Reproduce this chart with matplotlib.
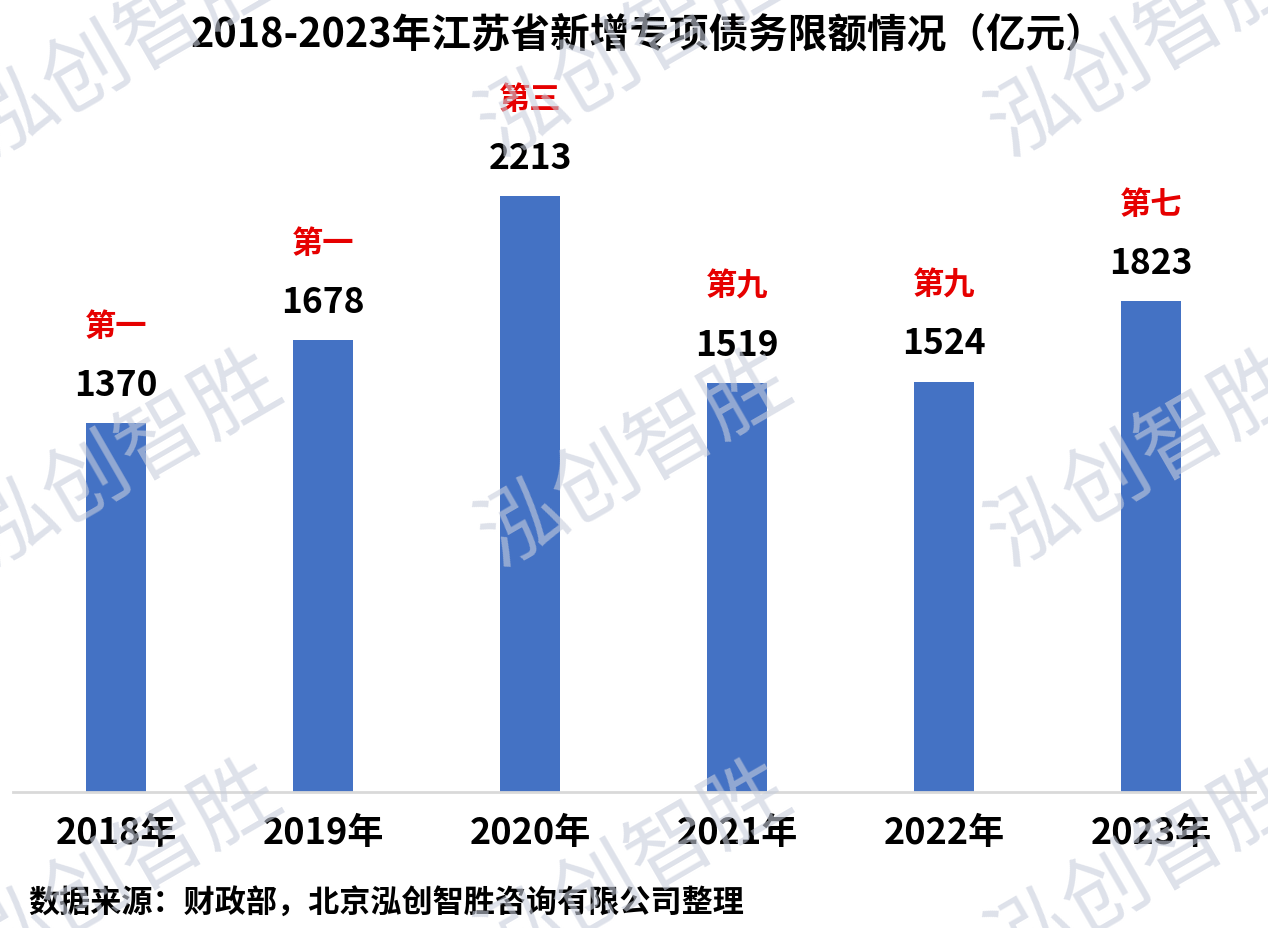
import matplotlib
matplotlib.use('Agg')
import matplotlib.pyplot as plt

plt.rcParams['font.family'] = ['Noto Sans CJK SC', 'DejaVu Sans']

years = ['2018年', '2019年', '2020年', '2021年', '2022年', '2023年']
limits = [1370, 1678, 2213, 1519, 1524, 1823]
ranks = ['第一', '第一', '第三', '第九', '第九', '第七']

title = '2018-2023年江苏省新增专项债务限额情况（亿元）'
source = '数据来源：财政部，北京泓创智胜咨询有限公司整理'
watermark = '泓创智胜'

fig = plt.figure(figsize=(12.68, 9.29), dpi=100)
ax = fig.add_axes([0.0099, 0.1464, 0.9795, 0.7244])

x = range(len(years))
ax.bar(x, limits, width=0.29, color='#4472C4', zorder=2)
ax.set_xlim(-0.5, len(years) - 0.5)
ax.set_ylim(0, 2500)

for i, v in enumerate(limits):
    ax.annotate(str(v), (i, v), xytext=(0, 28), textcoords='offset points',
                ha='center', va='center', fontsize=25.5, fontweight='bold', color='black')
    ax.annotate(ranks[i], (i, v), xytext=(0, 70), textcoords='offset points',
                ha='center', va='center', fontsize=22.5, fontweight='bold', color='#E60000')

ax.set_xticks(list(x))
ax.set_xticklabels(years, fontsize=26, fontweight='bold')
ax.tick_params(axis='x', length=0, pad=16)
ax.set_yticks([])
for s in ['top', 'right', 'left']:
    ax.spines[s].set_visible(False)
ax.spines['bottom'].set_color('#D9D9D9')
ax.spines['bottom'].set_linewidth(2)

fig.text(0.511, 0.962, title, ha='center', va='center', fontsize=28.5, fontweight='bold')
fig.text(0.022, 0.027, source, ha='left', va='center', fontsize=22.4, fontweight='bold')

# watermark, cut at the edges like the original
for cx in [125, 635, 1145]:
    for cy in [50, 460, 870]:
        fig.text(cx / 1268, 1 - cy / 929, watermark, ha='center', va='center',
                 fontsize=62, fontweight='light', rotation=30,
                 color='#C8CEDC', alpha=0.6, zorder=10)

fig.savefig('out.png', dpi=100)
